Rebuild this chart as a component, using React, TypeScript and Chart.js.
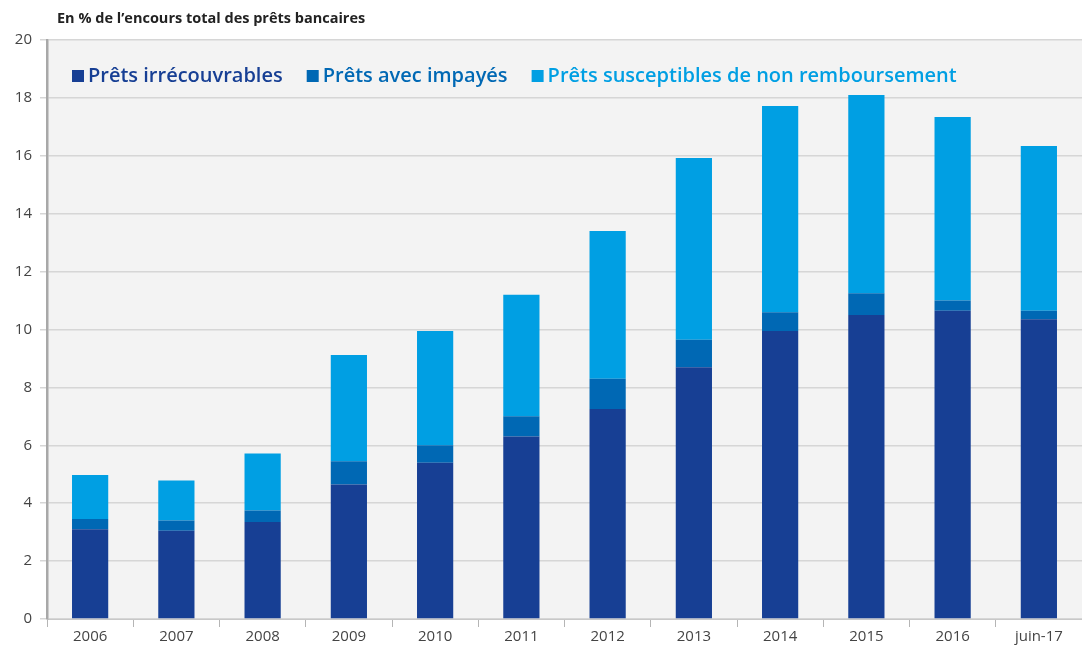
import React, { useEffect, useRef } from "react";
import { Chart, registerables } from "chart.js";

Chart.register(...registerables);

const categories = ["2006", "2007", "2008", "2009", "2010", "2011", "2012", "2013", "2014", "2015", "2016", "juin-17"];
const irrecouvrables = [3.1, 3.05, 3.35, 4.65, 5.4, 6.3, 7.25, 8.7, 9.95, 10.5, 10.65, 10.35];
const impayes = [0.35, 0.35, 0.4, 0.8, 0.6, 0.7, 1.05, 0.95, 0.65, 0.75, 0.35, 0.3];
const susceptibles = [1.52, 1.38, 1.97, 3.67, 3.95, 4.2, 5.1, 6.27, 7.12, 6.85, 6.34, 5.69];
const seriesLabels = ["Prêts irrécouvrables", "Prêts avec impayés", "Prêts susceptibles de non remboursement"];
const seriesColors = ["#173f94", "#0068b4", "#009fe3"];
const yTicks = [0, 2, 4, 6, 8, 10, 12, 14, 16, 18, 20];
const titleText = "En % de l’encours total des prêts bancaires";

const FONT = "'Open Sans', 'Noto Sans', sans-serif";

const decorPlugin = {
  id: "decor",
  beforeDraw(chart: any) {
    const { ctx, chartArea } = chart;
    ctx.save();
    ctx.fillStyle = "#f3f3f3";
    ctx.fillRect(chartArea.left, chartArea.top, chartArea.right - chartArea.left, chartArea.bottom - chartArea.top);
    ctx.restore();
  },
  afterDraw(chart: any) {
    const { ctx } = chart;
    ctx.save();
    ctx.font = `700 14.5px ${FONT}`;
    ctx.fillStyle = "#222";
    ctx.textBaseline = "middle";
    ctx.fillText(titleText, 57, 19);
    // legend
    let x = 72;
    const y = 76;
    ctx.font = `600 20px ${FONT}`;
    chart.data.datasets.forEach((ds: any, i: number) => {
      ctx.fillStyle = ds.backgroundColor;
      ctx.fillRect(x, y - 6, 12, 12);
      x += 16;
      ctx.fillStyle = seriesColors[i];
      ctx.textBaseline = "middle";
      ctx.fillText(ds.label, x, y);
      x += ctx.measureText(ds.label).width + 24;
    });
    ctx.restore();
  },
};

export default function App() {
  const ref = useRef<HTMLCanvasElement>(null);
  useEffect(() => {
    document.body.style.margin = "0";
    const data = [irrecouvrables, impayes, susceptibles];
    const chart = new Chart(ref.current!, {
      type: "bar",
      data: {
        labels: categories,
        datasets: data.map((d, i) => ({
          label: seriesLabels[i],
          data: d,
          backgroundColor: seriesColors[i],
          categoryPercentage: 1,
          barPercentage: 0.42,
        })),
      },
      options: {
        animation: false,
        responsive: false,
        maintainAspectRatio: false,
        layout: { padding: { top: 40, right: 0, left: 0, bottom: 0 } },
        plugins: { legend: { display: false }, tooltip: { enabled: false }, title: { display: false } },
        scales: {
          x: {
            stacked: true,
            grid: { display: true, drawOnChartArea: false, drawTicks: true, tickLength: 8, color: "#b5b5b5", offset: true },
            border: { display: true, color: "#c8c8c8", width: 1 },
            ticks: { color: "#444", font: { family: FONT, size: 15 }, padding: 1, maxRotation: 0, autoSkip: false },
            afterFit(scale: any) { scale.height = 32; },
          },
          y: {
            stacked: true,
            min: 0,
            max: 20,
            afterBuildTicks(scale: any) { scale.ticks = yTicks.map((v) => ({ value: v })); },
            grid: { color: "#d6d6d6", lineWidth: 1.5, drawTicks: true, tickLength: 7 },
            border: { display: true, color: "#a8a8a8", width: 2.5 },
            ticks: { color: "#444", font: { family: FONT, size: 15 }, padding: 8 },
            afterFit(scale: any) { scale.width = 47; },
          },
        },
      },
      plugins: [decorPlugin],
    });
    return () => chart.destroy();
  }, []);
  return (
    <div style={{ position: "absolute", left: 0, top: 0, width: 1082, height: 651 }}>
      <canvas ref={ref} width={1082} height={651} style={{ width: 1082, height: 651 }} />
    </div>
  );
}
